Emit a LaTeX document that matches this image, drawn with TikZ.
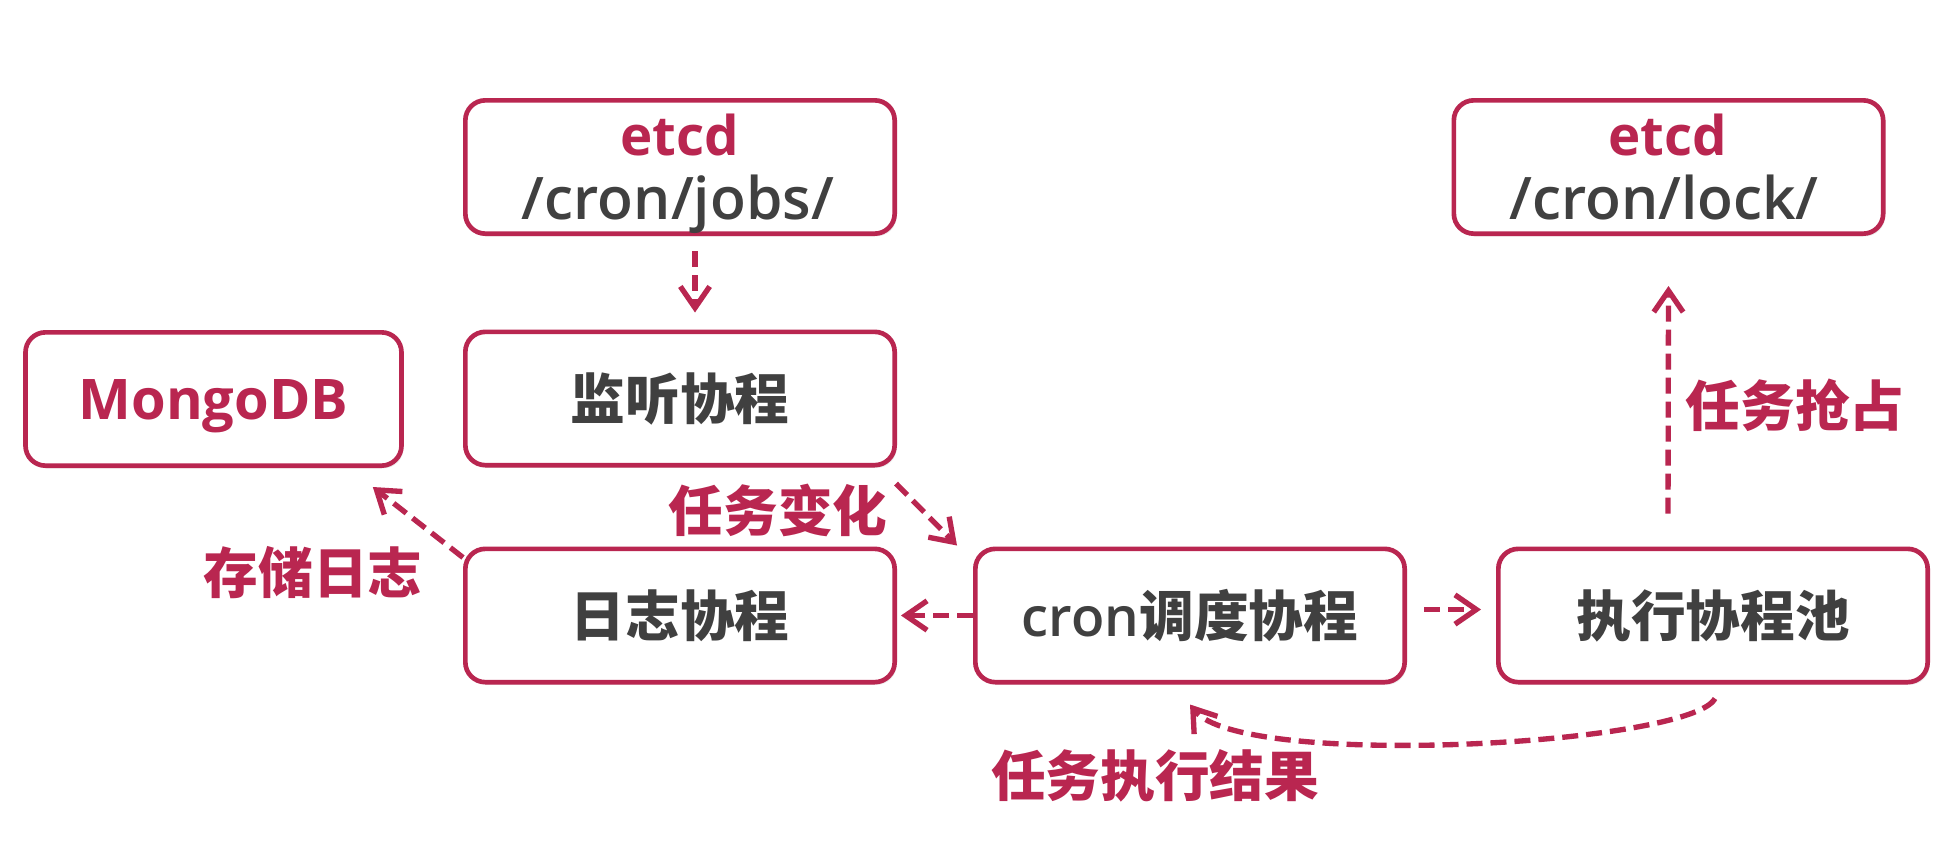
\documentclass[tikz,border=0pt]{standalone}
\usepackage{fontspec}
\setmainfont{Open Sans}
\newfontfamily\cjk{Noto Sans CJK SC}
\IfFontExistsTF{Open Sans SemiBold}
  {\newfontfamily\pathfont{Open Sans SemiBold}}
  {\IfFontExistsTF{Open Sans Semibold}
    {\newfontfamily\pathfont{Open Sans Semibold}}
    {\newfontfamily\pathfont{Open Sans}}}
\usetikzlibrary{arrows.meta,shadows}
\definecolor{crim}{RGB}{185,38,80}
\definecolor{txt}{RGB}{64,64,64}
\tikzset{
  box/.style={draw=crim, line width=3.5pt, rounded corners=15pt, fill=white,
    minimum width=322pt, minimum height=100pt, inner sep=0pt, text=txt,
    font=\cjk\bfseries\fontsize{41}{48}\selectfont, text height=31pt, text depth=0pt,
    drop shadow={shadow xshift=1.5pt, shadow yshift=-2pt, opacity=0.15}},
  lbl/.style={text=crim, font=\cjk\bfseries\fontsize{41}{48}\selectfont,
    inner sep=0pt, text height=31pt, text depth=0pt},
  keytext/.style={anchor=base, inner sep=0pt, text=crim, font=\bfseries\fontsize{41}{48}\selectfont},
  pathtext/.style={anchor=base, inner sep=0pt, text=txt, font=\pathfont\fontsize{44}{50}\selectfont},
  flow/.style={draw=crim, line width=4pt, dash pattern=on 12pt off 6pt,
    -{Straight Barb[length=16pt,width=22pt]}},
}
\begin{document}
\begin{tikzpicture}[x=0.75pt,y=-0.75pt]
\useasboundingbox (0,0) rectangle (1948,844);
\fill[white] (0,0) rectangle (1948,844);

% boxes
\node[box] (jobs) at (680,167) {};
\node[box] (lock) at (1668.5,167) {};
\node[box, minimum width=282pt, text=crim] (mongo) at (213.5,399)
  {\fontspec{Open Sans}\bfseries\fontsize{42}{48}\selectfont MongoDB};
\node[box] (listen) at (680,398.5) {监听协程};
\node[box] (log) at (680,615.5) {日志协程};
\node[box] (cron) at (1190,615.5) {{\pathfont\mdseries cron}调度协程};
\node[box] (exec) at (1713,615.5) {执行协程池};

% two-line texts in the etcd boxes
\node[keytext] (jobsk) at (680,155) {etcd};
\node[pathtext] (jobsp) at (678,219) {/cron/jobs/};
\node[keytext] (lockk) at (1668,155) {etcd};
\node[pathtext] (lockp) at (1664,219) {/cron/lock/};

% labels
\node[lbl] (l1) at (778,511) {任务变化};
\node[lbl] (l2) at (313,573) {存储日志};
\node[lbl] (l3) at (1795,406) {任务抢占};
\node[lbl] (l4) at (1155,776) {任务执行结果};

% connectors
\draw[flow] ([shift={(15,15)}]jobs.south) -- ([shift={(15,-17)}]listen.north);
\draw[flow] ([shift={(-1,16)}]listen.south east) -- ([shift={(-16,-1)}]cron.north west);
\draw[flow] (cron.west) -- ([shift={(4,0)}]log.east);
\draw[flow] ([shift={(17,-6)}]cron.east) -- ([shift={(-15,-6)}]exec.west);
\draw[flow] ([shift={(0,11)}]log.north west) -- ([shift={(-31,19)}]mongo.south east);
\draw[flow] ([shift={(-45,-33)}]exec.north) -- ([shift={(0,50)}]lock.south);
\draw[flow] ([shift={(2,14)}]exec.south) .. controls (1690,745) and (1240,770) .. ([shift={(0,20)}]cron.south);
\end{tikzpicture}
\end{document}
